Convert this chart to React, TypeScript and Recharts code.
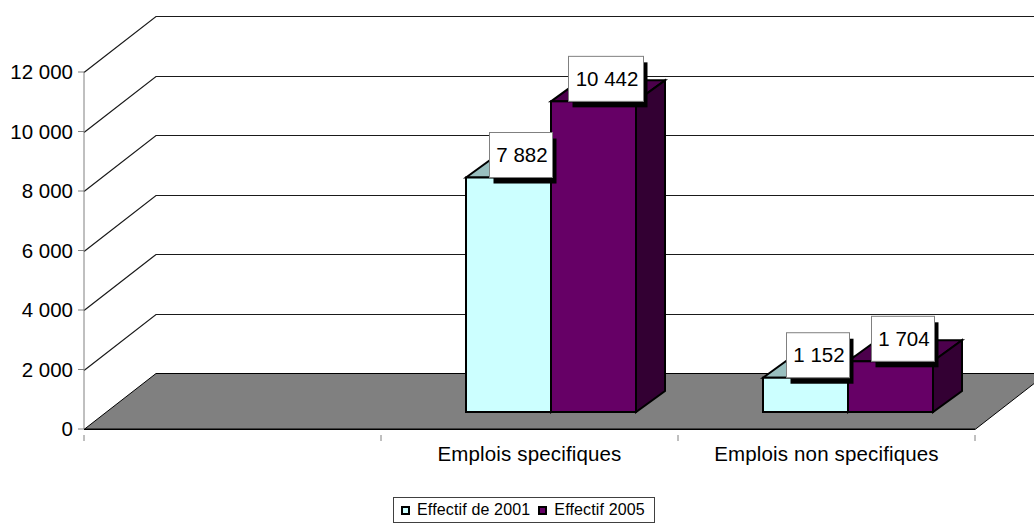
import React from 'react';
import { BarChart, Bar, XAxis, YAxis, CartesianGrid, Legend, LabelList } from 'recharts';

const categories = ['', 'Emplois specifiques', 'Emplois non specifiques'];
const effectif2001 = [null, 7882, 1152];
const effectif2005 = [null, 10442, 1704];
const yTicks = [0, 2000, 4000, 6000, 8000, 10000, 12000];

const rows = categories.map((name, i) => ({
  name,
  effectif2001: effectif2001[i],
  effectif2005: effectif2005[i],
}));

const FONT = '"Liberation Sans", Arial, sans-serif';

// Oblique projection used by the floor, the back wall and the bars
const WALL_DX = 72;
const WALL_DY = -56;
const FRONT_DX = 21;
const FRONT_DY = -17;
const BAR_DX = 29;
const BAR_DY = -21;
const BAND = 297;
const PLOT_BOTTOM = 429;

const spaced = (v: number) => String(v).replace(/\B(?=(\d{3})+$)/g, ' ');

const wallLine = (props: any) => {
  const { x1, x2, y1 } = props;
  const y = Math.round(y1) + 0.5;
  if (Math.abs(y1 - PLOT_BOTTOM) < 1) {
    return (
      <polygon
        key="floor"
        points={`${x1},${y} ${x1 + WALL_DX},${y + WALL_DY} ${x2 + WALL_DX},${y + WALL_DY} ${x2},${y}`}
        fill="#808080"
        stroke="#000"
        strokeWidth={1}
      />
    );
  }
  return (
    <polyline
      key={y1}
      points={`${x1},${y} ${x1 + WALL_DX},${y + WALL_DY} ${x2 + WALL_DX},${y + WALL_DY}`}
      fill="none"
      stroke="#1a1a1a"
      strokeWidth={1.2}
    />
  );
};

const box3d = (top: string, side: string) => (props: any) => {
  const { x, y, width, height, fill } = props;
  if (!height) return <g />;
  const l = x + FRONT_DX;
  const r = l + width;
  const t = y + FRONT_DY;
  const b = t + height;
  return (
    <g stroke="#000" strokeWidth={2} strokeLinejoin="miter">
      <polygon points={`${l},${t} ${l + BAR_DX},${t + BAR_DY} ${r + BAR_DX},${t + BAR_DY} ${r},${t}`} fill={top} />
      <polygon points={`${r},${t} ${r + BAR_DX},${t + BAR_DY} ${r + BAR_DX},${b + BAR_DY} ${r},${b}`} fill={side} />
      <rect x={l} y={t} width={width} height={height} fill={fill} />
    </g>
  );
};

const valueBox = (props: any) => {
  const { x, y, width, value } = props;
  if (value == null) return null;
  const text = spaced(value);
  const w = text.length > 5 ? 75 : 63;
  const h = 45;
  const cx = x + FRONT_DX + width / 2 + 12.5;
  const bottom = y + FRONT_DY;
  return (
    <g>
      <rect x={cx - w / 2 + 4} y={bottom - h + 6} width={w} height={h} fill="#000" />
      <rect x={cx - w / 2} y={bottom - h} width={w} height={h} fill="#fff" stroke="#808080" strokeWidth={1} />
      <text x={cx + 1} y={bottom - h / 2 + 7} textAnchor="middle" fontSize={20.5} fontFamily={FONT} fill="#000">
        {text}
      </text>
    </g>
  );
};

const CategoryTick = (props: any) => {
  const { x, y, payload, index } = props;
  const left = x - BAND / 2;
  return (
    <g>
      <line x1={left} x2={left} y1={y - 2} y2={y + 4} stroke="#808080" />
      {index === categories.length - 1 && (
        <line x1={x + BAND / 2} x2={x + BAND / 2} y1={y - 2} y2={y + 4} stroke="#808080" />
      )}
      <text x={x} y={y + 24} textAnchor="middle" fontSize={20.5} letterSpacing={0.15} fontFamily={FONT} fill="#000">
        {payload.value}
      </text>
    </g>
  );
};

const LegendBox = ({ payload }: any) => (
  <div
    style={{
      display: 'flex',
      alignItems: 'center',
      height: 24,
      padding: '0 9px 0 7px',
      border: '1px solid #404040',
      background: '#fff',
      fontFamily: FONT,
      fontSize: 16,
      letterSpacing: 0.15,
      whiteSpace: 'nowrap',
      color: '#000',
    }}
  >
    {(payload || []).map((entry: any, i: number) => (
      <span key={entry.value} style={{ display: 'flex', alignItems: 'center', marginLeft: i ? 8 : 0 }}>
        <span
          style={{
            display: 'inline-block',
            width: 5,
            height: 5,
            border: '2px solid #000',
            background: entry.color,
            marginRight: 7,
          }}
        />
        {entry.value}
      </span>
    ))}
  </div>
);

export default function App() {
  return (
    <div style={{ position: 'absolute', left: 0, top: 0, width: 1034, height: 523, background: '#fff' }}>
      <BarChart
        width={1034}
        height={523}
        data={rows}
        margin={{ top: 72, right: 59, bottom: 8, left: 0 }}
        barSize={85}
        barGap={0}
        barCategoryGap={0}
      >
        <CartesianGrid vertical={false} horizontal={wallLine} />
        <XAxis
          dataKey="name"
          height={60}
          interval={0}
          tickLine={false}
          axisLine={{ stroke: '#000' }}
          tick={CategoryTick}
        />
        <YAxis
          width={84}
          domain={[0, 12000]}
          ticks={yTicks}
          tickFormatter={spaced}
          tickSize={6}
          tickMargin={5}
          axisLine={{ stroke: '#808080' }}
          tickLine={{ stroke: '#808080' }}
          tick={{ fontSize: 20.5, fontFamily: FONT, fill: '#000' }}
        />
        <Legend
          content={LegendBox}
          itemSorter={null}
          wrapperStyle={{ left: 393, top: 497, bottom: 'auto', width: 'auto' }}
        />
        <Bar
          dataKey="effectif2001"
          name="Effectif de 2001"
          fill="#CCFFFF"
          isAnimationActive={false}
          shape={box3d('#99BFBF', '#669999')}
        >
          <LabelList dataKey="effectif2001" content={valueBox} />
        </Bar>
        <Bar
          dataKey="effectif2005"
          name="Effectif 2005"
          fill="#660066"
          isAnimationActive={false}
          shape={box3d('#4C004C', '#330033')}
        >
          <LabelList dataKey="effectif2005" content={valueBox} />
        </Bar>
      </BarChart>
    </div>
  );
}
